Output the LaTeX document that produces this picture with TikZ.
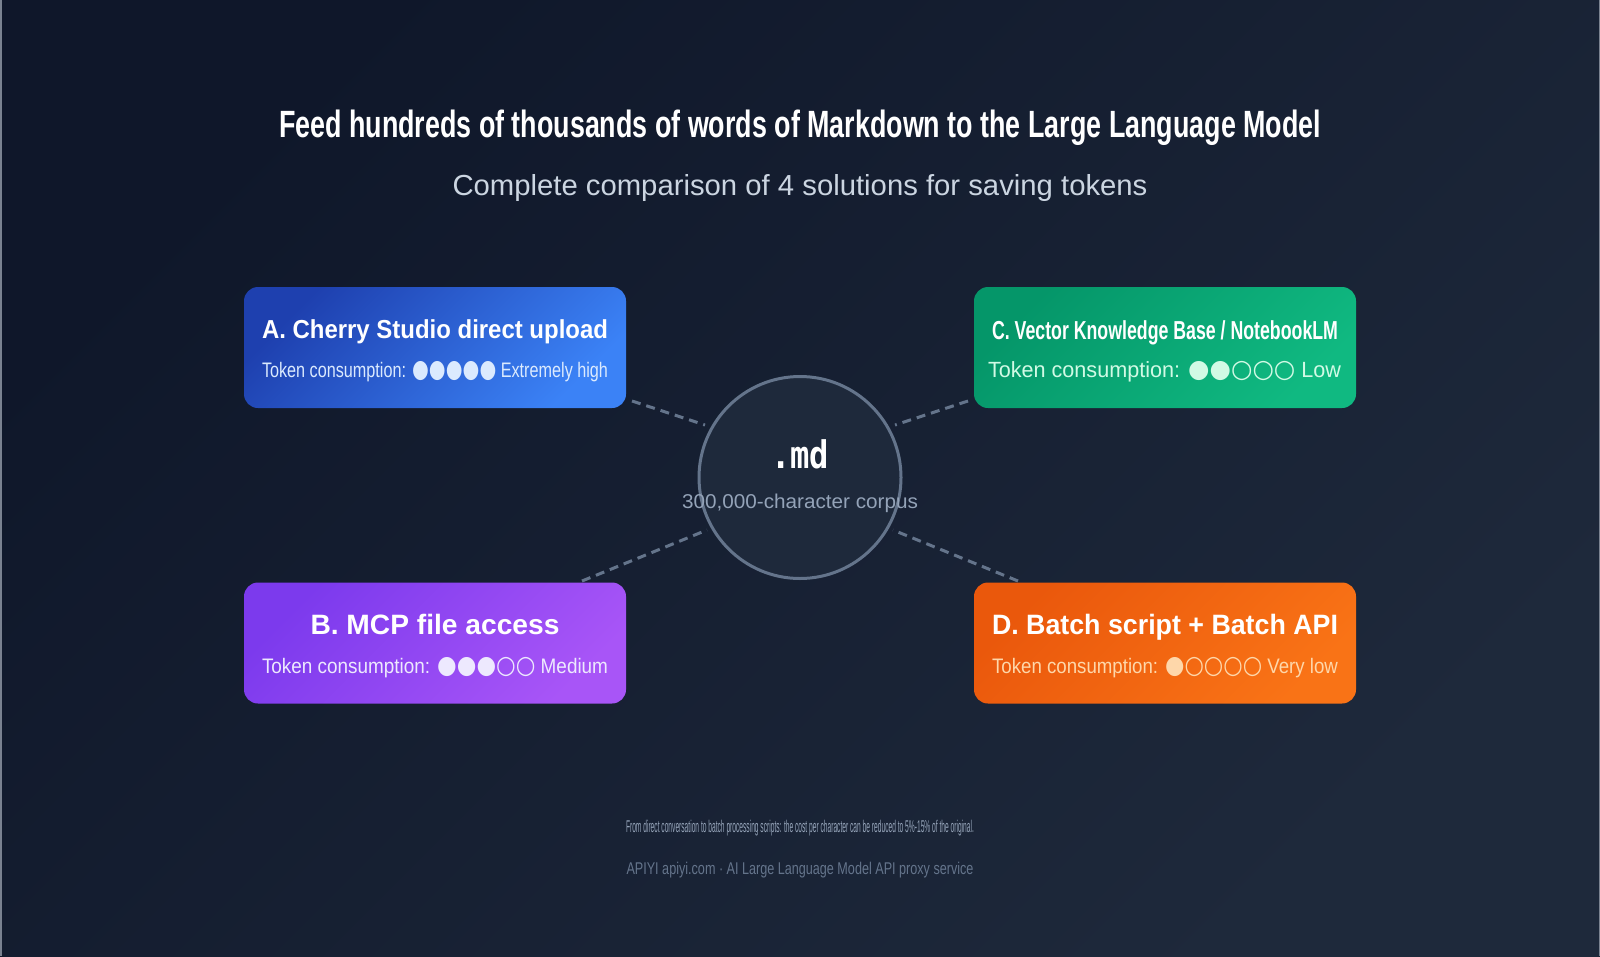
\documentclass[tikz,border=0pt]{standalone}
\usepackage{fontspec}
\setmainfont{Liberation Sans}
\newfontfamily\dvs{DejaVu Sans}
\newfontfamily\monof{DejaVu Sans Mono}
\usepackage{graphicx}
\definecolor{bgA}{HTML}{0F172A}
\definecolor{bgB}{HTML}{1E293B}
\definecolor{edge}{HTML}{7A8290}
\definecolor{linec}{HTML}{64748B}
\definecolor{circfill}{HTML}{1E293B}
\definecolor{subc}{HTML}{CBD5E1}
\definecolor{grayc}{HTML}{94A3B8}
\definecolor{footc}{HTML}{64748B}
\definecolor{Aone}{HTML}{1E40AF}\definecolor{Atwo}{HTML}{3B82F6}\definecolor{Atxt}{HTML}{DBEAFE}
\definecolor{Bone}{HTML}{7C3AED}\definecolor{Btwo}{HTML}{A855F7}\definecolor{Btxt}{HTML}{EDE9FE}
\definecolor{Cone}{HTML}{059669}\definecolor{Ctwo}{HTML}{10B981}\definecolor{Ctxt}{HTML}{D1FAE5}
\definecolor{Done}{HTML}{EA580C}\definecolor{Dtwo}{HTML}{F97316}\definecolor{Dtxt}{HTML}{FED7AA}
\newsavebox\fitbox
\newcommand\fitw[2]{\sbox\fitbox{#2}\pgfmathsetmacro\fitsc{#1/\the\wd\fitbox}\scalebox{\fitsc}[1]{\usebox\fitbox}}
\newcommand\fs[1]{\fontsize{#1}{#1}\selectfont}
\newcommand\dts[1]{{\dvs\fs{25}#1}}
\begin{document}
\begin{tikzpicture}[x=1pt,y=-1pt,
  cardbox/.style={rounded corners=14pt, minimum width=382pt, minimum height=121pt, inner sep=0pt, shading angle=45},
  lbl/.style={anchor=base, inner sep=0pt, outer sep=0pt},
  conn/.style={draw=linec, line width=3pt, dash pattern=on 9pt off 6pt}]
\useasboundingbox (0,0) rectangle (1600,956);
\shade[left color=bgA, right color=bgB, shading angle=45] (0,0) rectangle (1600,956);
\draw[edge, line width=1.5pt] (0.75,0) -- (0.75,956);
\draw[edge, line width=1.5pt] (1599.25,0) -- (1599.25,956);

% title
\node[lbl, text=white] (title) at (800,137) {\fitw{1042}{\bfseries\fs{38}Feed hundreds of thousands of words of Markdown to the Large Language Model}};
\node[lbl, text=subc] (subtitle) at (800,195) {\fitw{695}{\fs{29}Complete comparison of 4 solutions for saving tokens}};

% connectors
\coordinate (a1) at (632,401); \coordinate (a2) at (705,425);
\coordinate (c1) at (968,401); \coordinate (c2) at (895,425);
\coordinate (b1) at (582,581); \coordinate (b2) at (707,530);
\coordinate (d1) at (1018,581); \coordinate (d2) at (893,530);
\draw[conn] (a1) -- (a2);
\draw[conn] (c1) -- (c2);
\draw[conn] (b1) -- (b2);
\draw[conn] (d1) -- (d2);

% centre
\node[circle, draw=linec, line width=3pt, fill=circfill, minimum size=202pt, inner sep=0pt] (md) at (800,477.5) {};
\node[lbl, text=white] (mdt) at (800,468) {\fitw{58}{\monof\bfseries\fs{38}.md}};
\node[lbl, text=grayc] (corpus) at (800,508) {\fitw{236}{\fs{20}300,000-character corpus}};

% cards
\node[cardbox, left color=Aone, right color=Atwo, shading angle=45] (A) at (435,347.5) {};
\node[cardbox, left color=Cone, right color=Ctwo, shading angle=45] (C) at (1165,347.5) {};
\node[cardbox, left color=Bone, right color=Btwo, shading angle=45] (B) at (435,643) {};
\node[cardbox, left color=Done, right color=Dtwo, shading angle=45] (D) at (1165,643) {};

\node[lbl, text=white] (At) at (435,338) {\fitw{346}{\bfseries\fs{26}A. Cherry Studio direct upload}};
\node[lbl, text=Atxt] (As) at (435,377) {\fitw{346}{\fs{21}Token consumption: \dts{●●●●●} Extremely high}};
\node[lbl, text=white] (Ct) at (1165,339) {\fitw{346}{\bfseries\fs{26}C. Vector Knowledge Base / NotebookLM}};
\node[lbl, text=Ctxt] (Cs) at (1164.5,377) {\fitw{353}{\fs{22}Token consumption: \dts{●●○○○} Low}};
\node[lbl, text=white] (Bt) at (435,634) {\fitw{249}{\bfseries\fs{28}B. MCP file access}};
\node[lbl, text=Btxt] (Bs) at (435,673) {\fitw{346}{\fs{21}Token consumption: \dts{●●●○○} Medium}};
\node[lbl, text=white] (Dt) at (1165,634) {\fitw{346}{\bfseries\fs{28}D. Batch script + Batch API}};
\node[lbl, text=Dtxt] (Ds) at (1165,673) {\fitw{346}{\fs{21}Token consumption: \dts{●○○○○} Very low}};

% footer
\node[lbl, text=grayc] (f1) at (800,832) {\fitw{348}{\fs{17}From direct conversation to batch processing scripts: the cost per character can be reduced to 5\%-15\% of the original.}};
\node[lbl, text=footc] (f2) at (800,874) {\fitw{347}{\fs{17}APIYI apiyi.com · AI Large Language Model API proxy service}};
\end{tikzpicture}
\end{document}
